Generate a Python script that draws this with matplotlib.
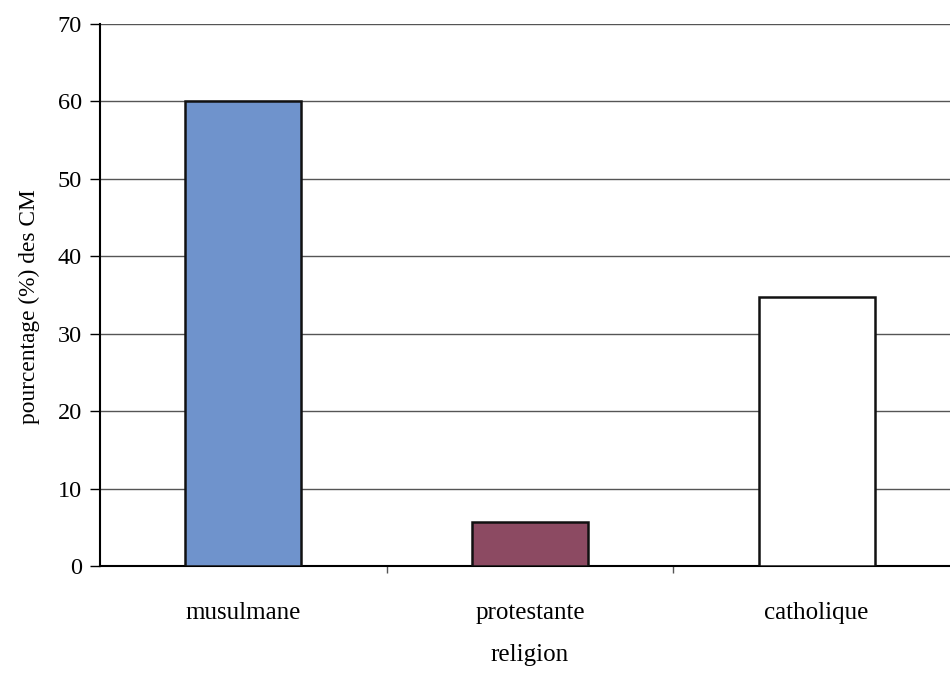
import matplotlib.pyplot as plt
import numpy as np

# pourcentage des CM selon la religion
religions = ['musulmane', 'protestante', 'catholique']
pourcentages = [60.0, 5.7, 34.7]
couleurs = ['#6f93cc', '#8c4a62', '#ffffff']

plt.rcParams['font.family'] = ['Liberation Serif', 'DejaVu Serif']

fig = plt.figure(figsize=(9.5, 6.78), dpi=100)
# l'axe déborde légèrement à droite de la figure
ax = fig.add_axes([100 / 950, 1 - 566 / 678, 860 / 950, 542 / 678])

x = np.arange(len(religions))
ax.bar(x, pourcentages, width=0.405, color=couleurs, edgecolor='#111111',
       linewidth=1.8, zorder=3)

ax.set_xlim(-0.5, len(religions) - 0.5)
ax.set_ylim(0, 70)
ax.set_yticks(range(0, 71, 10))
ax.yaxis.grid(True, color='#555555', linewidth=1.0, zorder=0)
ax.set_axisbelow(True)

ax.set_xticks(x)
ax.set_xticklabels(religions, fontsize=18)
ax.set_xticks([0.5, 1.5], minor=True)
ax.tick_params(axis='x', which='major', length=0, pad=26)
ax.tick_params(axis='x', which='minor', length=5, width=1, color='#555555')
ax.tick_params(axis='y', labelsize=17.5, length=7, width=1, pad=6)

for s in ['top', 'right']:
    ax.spines[s].set_visible(False)
ax.spines['left'].set_linewidth(1.5)
ax.spines['bottom'].set_linewidth(1.5)

ax.set_ylabel('pourcentage (%) des CM', fontsize=16.8)
ax.yaxis.set_label_coords(-0.07, 0.478)
ax.set_xlabel('religion', fontsize=18, labelpad=14)

fig.savefig('out.png', dpi=100)
